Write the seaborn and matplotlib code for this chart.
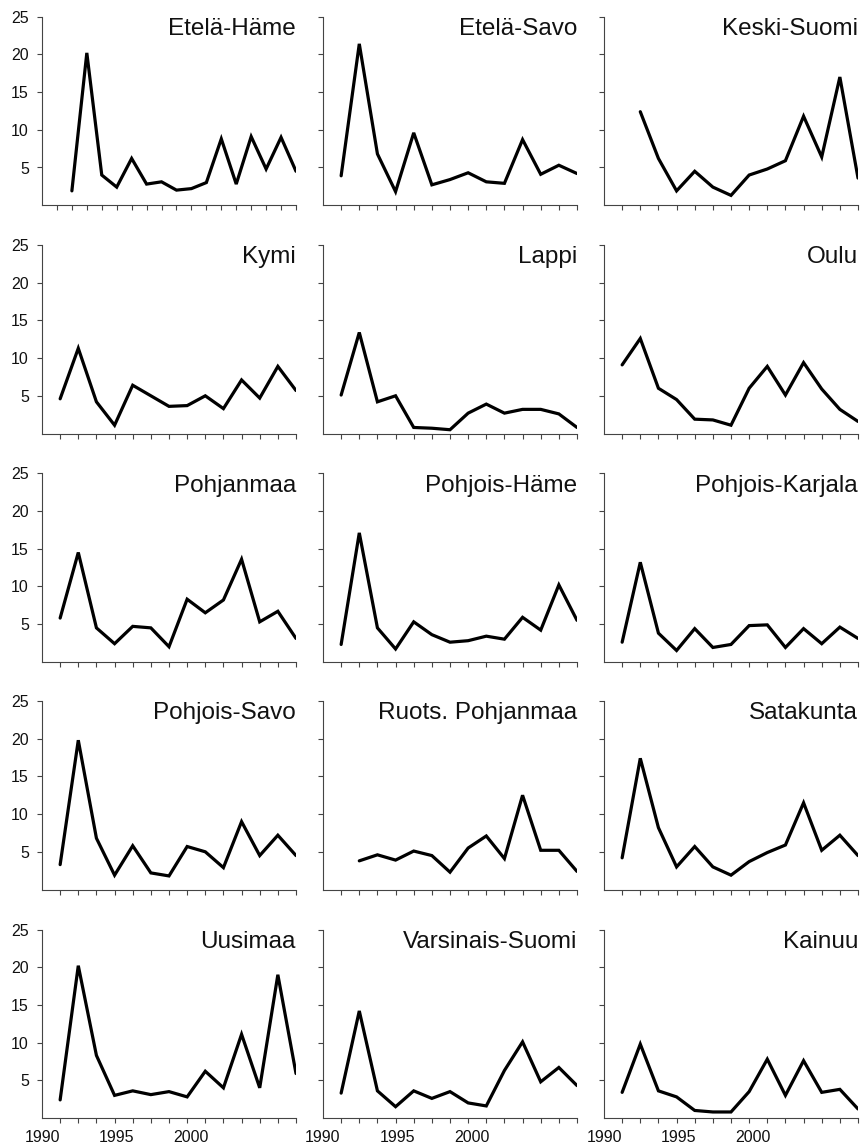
import matplotlib
matplotlib.use('Agg')
import matplotlib.pyplot as plt
import seaborn as sns
import pandas as pd

sns.set_theme(style='white')
plt.rcParams['font.family'] = ['Liberation Sans', 'DejaVu Sans']

# ---------------- data ----------------
years_full = list(range(1989, 2003))   # 14 years
years_eh = list(range(1987, 2003))     # Etelä-Häme axis is longer
years_late = list(range(1990, 2003))   # series starting 1990

regions = ["Etelä-Häme", "Etelä-Savo", "Keski-Suomi",
           "Kymi", "Lappi", "Oulu",
           "Pohjanmaa", "Pohjois-Häme", "Pohjois-Karjala",
           "Pohjois-Savo", "Ruots. Pohjanmaa", "Satakunta",
           "Uusimaa", "Varsinais-Suomi", "Kainuu"]

etela_hame = [1.9, 20.2, 4.0, 2.4, 6.2, 2.8, 3.1, 2.0, 2.2, 3.0, 8.8, 2.8, 9.1, 4.8, 9.0, 4.5]
etela_savo = [3.9, 21.4, 6.8, 1.8, 9.6, 2.7, 3.4, 4.3, 3.1, 2.9, 8.7, 4.1, 5.3, 4.2]
keski_suomi = [12.4, 6.2, 1.9, 4.5, 2.4, 1.3, 4.0, 4.8, 5.9, 11.8, 6.4, 17.0, 3.6]
kymi = [4.6, 11.3, 4.2, 1.1, 6.4, 5.0, 3.6, 3.7, 5.0, 3.3, 7.1, 4.7, 8.9, 5.7]
lappi = [5.1, 13.4, 4.2, 5.0, 0.8, 0.7, 0.5, 2.7, 3.9, 2.7, 3.2, 3.2, 2.6, 0.8]
oulu = [9.1, 12.6, 6.0, 4.5, 1.9, 1.8, 1.1, 6.0, 8.9, 5.1, 9.4, 5.9, 3.2, 1.6]
pohjanmaa = [5.8, 14.5, 4.5, 2.4, 4.7, 4.5, 2.0, 8.3, 6.5, 8.2, 13.6, 5.3, 6.7, 3.1]
pohjois_hame = [2.3, 17.1, 4.5, 1.7, 5.3, 3.6, 2.6, 2.8, 3.4, 3.0, 5.9, 4.2, 10.2, 5.5]
pohjois_karjala = [2.6, 13.2, 3.8, 1.5, 4.4, 1.9, 2.3, 4.8, 4.9, 1.9, 4.4, 2.4, 4.6, 3.1]
pohjois_savo = [3.3, 19.8, 6.8, 1.9, 5.8, 2.2, 1.8, 5.7, 5.0, 2.9, 9.0, 4.5, 7.2, 4.5]
ruots_pohjanmaa = [3.8, 4.6, 3.9, 5.1, 4.5, 2.3, 5.5, 7.1, 4.1, 12.5, 5.2, 5.2, 2.4]
satakunta = [4.2, 17.4, 8.2, 3.0, 5.7, 3.0, 1.9, 3.7, 4.9, 5.9, 11.5, 5.2, 7.2, 4.5]
uusimaa = [2.4, 20.2, 8.3, 3.0, 3.6, 3.1, 3.5, 2.8, 6.2, 4.0, 11.1, 4.0, 19.0, 5.9]
varsinais_suomi = [3.3, 14.2, 3.6, 1.5, 3.6, 2.6, 3.5, 2.0, 1.6, 6.3, 10.1, 4.8, 6.7, 4.3]
kainuu = [3.4, 9.8, 3.6, 2.8, 1.0, 0.8, 0.8, 3.5, 7.8, 3.0, 7.6, 3.4, 3.8, 1.2]

series = [etela_hame, etela_savo, keski_suomi,
          kymi, lappi, oulu,
          pohjanmaa, pohjois_hame, pohjois_karjala,
          pohjois_savo, ruots_pohjanmaa, satakunta,
          uusimaa, varsinais_suomi, kainuu]
series_years = [years_eh, years_full, years_late,
                years_full, years_full, years_full,
                years_full, years_full, years_full,
                years_full, years_late, years_full,
                years_full, years_full, years_full]

y_ticks = [5, 10, 15, 20, 25]
x_label_years = [1990, 1995, 2000]

# the year labels of the bottom row sit on their own, coarser scale
# (1990 at the axis origin, 17 label-units across the panel)
def to_label_scale(x):
    return 1990 + (x - 1988) * 17.0 / 14.0

def from_label_scale(v):
    return 1988 + (v - 1990) * 14.0 / 17.0

# ---------------- layout ----------------
W, H = 861, 1145
fig = plt.figure(figsize=(W / 100, H / 100), dpi=100)

col_left = [42, 323, 604]
ax_w = 254
row_top = [16.7, 245.0, 473.3, 701.0, 929.5]
ax_h = 188.5

for i, (name, yrs, vals) in enumerate(zip(regions, series_years, series)):
    r, c = divmod(i, 3)
    left = col_left[c] / W
    bottom = 1 - (row_top[r] + ax_h) / H
    ax = fig.add_axes([left, bottom, ax_w / W, ax_h / H])
    df = pd.DataFrame({"year": yrs, "value": vals})
    sns.lineplot(data=df, x="year", y="value", ax=ax, color='black',
                 linewidth=2.3, solid_joinstyle='miter')
    xmin = 1985 if name == "Etelä-Häme" else 1988
    ax.set_xlim(xmin, 2002)
    ax.set_ylim(0, 25)
    ax.set_xticks(list(range(xmin + 1, 2003)))
    ax.set_yticks(y_ticks)
    ax.set_xlabel("")
    ax.set_ylabel("")
    for s in ("top", "right"):
        ax.spines[s].set_visible(False)
    for s in ("left", "bottom"):
        ax.spines[s].set_color('#444444')
        ax.spines[s].set_linewidth(0.8)
    ax.tick_params(axis='both', which='both', direction='out', length=3.5,
                   width=0.8, color='#444444', labelsize=11.5, pad=6,
                   bottom=True, left=True, labelcolor='#111111')
    if c == 0:
        ax.set_yticklabels([str(t) for t in y_ticks])
    else:
        ax.set_yticklabels([])
    ax.set_xticklabels([])
    if r == 4:
        sec = ax.secondary_xaxis('bottom', functions=(to_label_scale, from_label_scale))
        sec.set_xticks(x_label_years)
        sec.set_xticklabels([str(y) for y in x_label_years])
        sec.tick_params(length=0, labelsize=11.5, pad=9, labelcolor='#111111')
        sec.spines['bottom'].set_visible(False)
    ax.text(1.0, 0.902, name, transform=ax.transAxes, ha='right',
            va='baseline', fontsize=17.5, color='#111111')
    ax.patch.set_alpha(0)

fig.savefig("out.png", dpi=100)
